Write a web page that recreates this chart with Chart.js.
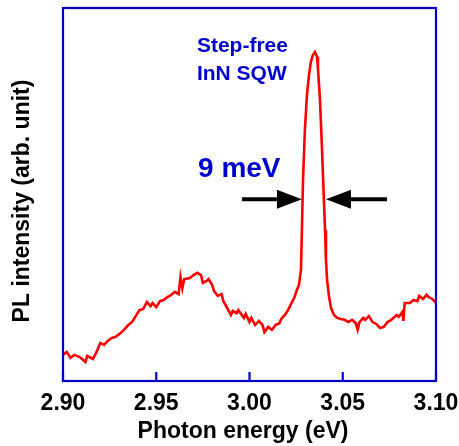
<!DOCTYPE html>
<html>
<head>
<meta charset="utf-8">
<title>PL spectrum - Step-free InN SQW</title>
<script src="https://cdn.jsdelivr.net/npm/chart.js@4.4.1/dist/chart.umd.min.js"></script>
<style>
  html, body { margin: 0; padding: 0; background: #fff; }
  canvas { display: block; }
</style>
</head>
<body>
<canvas id="plChart" width="459" height="446"></canvas>
<script>
// Photon energy (eV) and PL intensity (arb. unit)
const energy = [
  2.900, 2.902, 2.904, 2.906, 2.909, 2.912, 2.913, 2.916, 2.918, 2.920,
  2.922, 2.924, 2.926, 2.928, 2.931, 2.933, 2.935, 2.937, 2.939, 2.941,
  2.943, 2.945, 2.947, 2.948, 2.950, 2.952, 2.954, 2.956, 2.958, 2.960,
  2.962, 2.963, 2.964, 2.965, 2.968, 2.970, 2.972, 2.974, 2.975, 2.977,
  2.978, 2.980, 2.981, 2.983, 2.985, 2.986, 2.988, 2.990, 2.991, 2.993,
  2.994, 2.997, 2.998, 3.000, 3.001, 3.003, 3.005, 3.007, 3.008, 3.010,
  3.012, 3.014, 3.016, 3.017, 3.019, 3.021, 3.022, 3.024, 3.0254, 3.0265,
  3.0276, 3.0281, 3.0287, 3.0297, 3.0308, 3.0319, 3.0329, 3.0340, 3.0351, 3.0362,
  3.0367, 3.0378, 3.0389, 3.0399, 3.0405, 3.0410, 3.0416, 3.0426, 3.0437, 3.0453,
  3.047, 3.049, 3.051, 3.053, 3.055, 3.057, 3.058, 3.059, 3.061, 3.062,
  3.064, 3.066, 3.068, 3.070, 3.072, 3.074, 3.076, 3.079, 3.080, 3.082,
  3.0825, 3.0832, 3.086, 3.088, 3.090, 3.091, 3.093, 3.095, 3.096, 3.098,
  3.100
];
const intensity = [
  7.0, 7.8, 6.2, 7.0, 6.4, 5.1, 6.7, 5.9, 7.8, 10.2,
  9.7, 10.7, 11.5, 11.8, 12.9, 13.9, 15.0, 15.8, 17.4, 19.0,
  19.3, 21.2, 20.1, 20.9, 19.8, 21.4, 21.7, 22.5, 23.1, 23.9,
  23.3, 27.9, 24.9, 27.3, 27.6, 28.4, 29.0, 28.4, 26.3, 26.8,
  27.3, 25.7, 24.1, 22.8, 23.3, 21.4, 19.6, 17.7, 18.8, 18.2,
  19.0, 16.9, 18.0, 15.8, 16.9, 15.0, 16.1, 15.0, 13.1, 14.5,
  13.7, 15.0, 15.5, 16.6, 17.7, 19.3, 20.4, 22.3, 24.4, 25.7,
  29.8, 40.5, 53.9, 67.3, 76.7, 82.0, 85.5, 87.4, 88.2, 86.9,
  83.9, 75.3, 61.9, 48.5, 40.5, 32.4, 27.1, 22.8, 19.6, 17.7,
  16.9, 16.6, 16.4, 15.8, 16.4, 15.5, 13.7, 15.8, 16.9, 16.4,
  17.4, 15.8, 15.3, 14.2, 14.5, 15.8, 16.4, 17.7, 17.2, 18.5,
  16.1, 20.9, 20.9, 21.7, 21.4, 22.8, 22.0, 23.1, 22.5, 22.0,
  20.9
];
const xTicks = [2.90, 2.95, 3.00, 3.05, 3.10];

// Labels and arrows, placed in data units (eV, intensity)
const labelLines = ['Step-free', 'InN SQW'];
const labelX = 2.9718;
const labelY = [88.2, 80.7];
const widthLabel = '9 meV';
const widthLabelX = 2.9724;
const widthLabelY = 54.7;
const arrowY = 48.7;
const leftArrow = [2.9960, 3.0281];   // tail, tip
const rightArrow = [3.0737, 3.0410];  // tail, tip

const FONT = '"Liberation Sans", Arial, sans-serif';
const BLUE = '#0000cc';

// box, inner ticks, labels and arrows
const framePlugin = {
  id: 'frame',
  afterDraw(chart) {
    const c = chart.ctx;
    const a = chart.chartArea;
    const x = chart.scales.x;
    const y = chart.scales.y;

    c.save();
    c.strokeStyle = BLUE;
    c.lineWidth = 2.2;
    c.strokeRect(a.left, a.top, a.right - a.left, a.bottom - a.top);
    // inner tick marks
    x.ticks.forEach(t => {
      const px = x.getPixelForValue(t.value);
      c.beginPath();
      c.moveTo(px, a.bottom);
      c.lineTo(px, a.bottom - 9);
      c.stroke();
    });

    // annotation text
    c.fillStyle = BLUE;
    c.textAlign = 'left';
    c.textBaseline = 'alphabetic';
    c.font = 'bold 21px ' + FONT;
    labelLines.forEach((s, i) => {
      c.fillText(s, x.getPixelForValue(labelX), y.getPixelForValue(labelY[i]));
    });
    c.font = 'bold 28px ' + FONT;
    c.fillText(widthLabel, x.getPixelForValue(widthLabelX), y.getPixelForValue(widthLabelY));

    // arrows
    c.fillStyle = '#000';
    c.strokeStyle = '#000';
    c.lineWidth = 4;
    const ay = y.getPixelForValue(arrowY);
    [leftArrow, rightArrow].forEach(ar => {
      const tail = x.getPixelForValue(ar[0]);
      const tip = x.getPixelForValue(ar[1]);
      const dir = tip > tail ? 1 : -1;
      const headStart = tip - dir * 25;
      c.beginPath();
      c.moveTo(tail, ay);
      c.lineTo(headStart, ay);
      c.stroke();
      c.beginPath();
      c.moveTo(tip, ay);
      c.lineTo(headStart, ay - 9.5);
      c.lineTo(headStart, ay + 9.5);
      c.closePath();
      c.fill();
    });

    // axis titles
    c.fillStyle = '#000';
    c.font = 'bold 23px ' + FONT;
    c.textAlign = 'center';
    c.fillText('Photon energy (eV)', 243, 438);
    c.translate(28.5, 201);
    c.rotate(-Math.PI / 2);
    c.fillText('PL intensity (arb. unit)', 0, 0);
    c.restore();
  }
};

document.addEventListener('DOMContentLoaded', function() {
  const points = energy.map((e, i) => ({ x: e, y: intensity[i] }));
  const ctx = document.getElementById('plChart').getContext('2d');
  new Chart(ctx, {
    type: 'scatter',
    data: {
      datasets: [{
        data: points,
        showLine: true,
        borderColor: '#ff0000',
        borderWidth: 2.6,
        pointRadius: 0,
        tension: 0
      }]
    },
    options: {
      responsive: false,
      animation: false,
      layout: { padding: { left: 63, right: 23, top: 8, bottom: 0 } },
      plugins: { legend: { display: false }, tooltip: { enabled: false } },
      scales: {
        x: {
          type: 'linear',
          min: 2.9,
          max: 3.1,
          grid: { display: false },
          border: { display: false },
          afterBuildTicks: scale => { scale.ticks = xTicks.map(v => ({ value: v })); },
          afterFit: scale => {
            scale.height = 65;
            scale.paddingLeft = 0;
            scale.paddingRight = 0;
          },
          ticks: {
            autoSkip: false,
            maxRotation: 0,
            padding: 1,
            color: '#000',
            font: { family: FONT, weight: 'bold', size: 23 },
            callback: v => v.toFixed(2)
          }
        },
        y: {
          display: false,
          min: 0,
          max: 100
        }
      }
    },
    plugins: [framePlugin]
  });
});
</script>
</body>
</html>
